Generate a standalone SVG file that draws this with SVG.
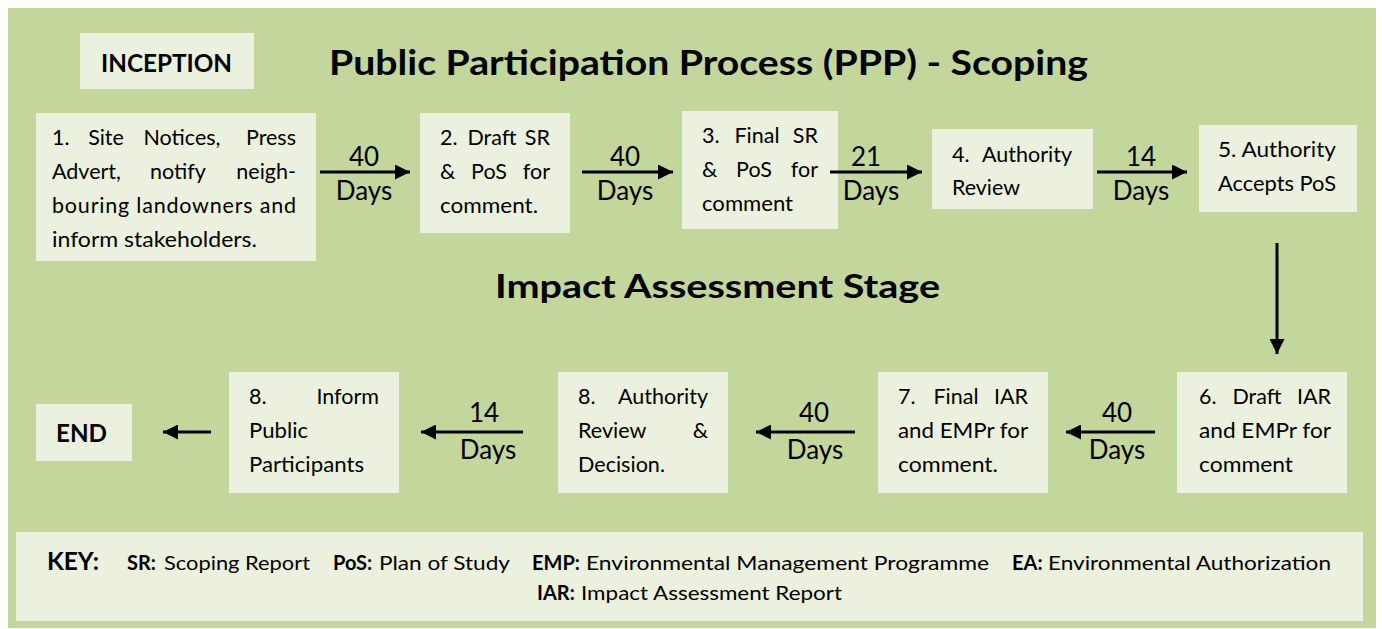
<svg xmlns="http://www.w3.org/2000/svg" width="1382" height="629" viewBox="0 0 1382 629">
<style>
.bg{fill:#C3D69B}
.box{fill:#EBF1DE}
text{font-family:Lato,"Open Sans","Liberation Sans",sans-serif;fill:#000}
.t{font-size:21.5px}
.h{font-size:35px;font-weight:bold}
.b{font-size:25px;font-weight:bold}
.lbl{font-size:26px;text-anchor:middle}
.k{font-size:20px}
.kb{font-size:20px;font-weight:bold}
.m{text-anchor:middle}
.e{text-anchor:end}
.arr{stroke:#000;stroke-width:3;fill:none;marker-end:url(#ah)}
</style>
<defs>
<marker id="ah" viewBox="0 0 10 10" refX="10" refY="5" markerUnits="userSpaceOnUse" markerWidth="15" markerHeight="15" orient="auto">
<path d="M0,0 L10,5 L0,10 z" fill="#000"/>
</marker>
</defs>
<rect class="bg" x="8" y="8" width="1368" height="620"/>

<text class="h" x="329" y="75" textLength="759" lengthAdjust="spacingAndGlyphs">Public Participation Process (PPP) - Scoping</text>
<text class="h" x="495" y="298" textLength="445" lengthAdjust="spacingAndGlyphs" style="font-size:33px">Impact Assessment Stage</text>

<g id="inception">
<rect class="box" x="80" y="33" width="174" height="56"/>
<text class="b" x="101" y="72" textLength="131" lengthAdjust="spacingAndGlyphs">INCEPTION</text>
</g>

<g id="n1">
<rect class="box" x="36" y="113" width="280" height="148"/>
<text class="t" y="145"><tspan x="106" class="m">Site</tspan><tspan x="52">1.</tspan><tspan x="182" class="m">Notices,</tspan><tspan x="296" class="e">Press</tspan></text>
<text class="t" y="179"><tspan x="52">Advert,</tspan><tspan x="178" class="m">notify</tspan><tspan x="296" class="e">neigh-</tspan></text>
<text class="t" x="52" y="213" textLength="244" lengthAdjust="spacing">bouring landowners and</text>
<text class="t" x="52" y="247" textLength="205" lengthAdjust="spacingAndGlyphs">inform stakeholders.</text>
</g>

<g id="n2">
<rect class="box" x="420" y="113" width="150" height="120"/>
<text class="t" y="145"><tspan x="440">2.</tspan><tspan x="492" class="m">Draft</tspan><tspan x="550" class="e">SR</tspan></text>
<text class="t" y="179"><tspan x="440">&amp;</tspan><tspan x="489" class="m">PoS</tspan><tspan x="550" class="e">for</tspan></text>
<text class="t" x="440" y="213" textLength="98" lengthAdjust="spacingAndGlyphs">comment.</text>
</g>

<g id="n3">
<rect class="box" x="682" y="111" width="156" height="118"/>
<text class="t" y="143"><tspan x="702">3.</tspan><tspan x="757" class="m">Final</tspan><tspan x="818" class="e">SR</tspan></text>
<text class="t" y="177"><tspan x="702">&amp;</tspan><tspan x="754" class="m">PoS</tspan><tspan x="818" class="e">for</tspan></text>
<text class="t" x="702" y="211" textLength="91" lengthAdjust="spacingAndGlyphs">comment</text>
</g>

<g id="n4">
<rect class="box" x="932" y="129" width="161" height="80"/>
<text class="t" y="162"><tspan x="952">4.</tspan><tspan x="1072" class="e">Authority</tspan></text>
<text class="t" x="952" y="195" textLength="68" lengthAdjust="spacingAndGlyphs">Review</text>
</g>

<g id="n5">
<rect class="box" x="1199" y="125" width="158" height="87"/>
<text class="t" x="1218" y="157" textLength="118" lengthAdjust="spacingAndGlyphs">5. Authority</text>
<text class="t" x="1218" y="191" textLength="118" lengthAdjust="spacingAndGlyphs">Accepts PoS</text>
</g>

<g id="n6">
<rect class="box" x="1177" y="372" width="170" height="121"/>
<text class="t" y="404"><tspan x="1199">6.</tspan><tspan x="1257" class="m">Draft</tspan><tspan x="1331" class="e">IAR</tspan></text>
<text class="t" x="1199" y="438" textLength="132" lengthAdjust="spacingAndGlyphs">and EMPr for</text>
<text class="t" x="1199" y="472" textLength="94" lengthAdjust="spacingAndGlyphs">comment</text>
</g>

<g id="n7">
<rect class="box" x="878" y="372" width="170" height="121"/>
<text class="t" y="404"><tspan x="898">7.</tspan><tspan x="956" class="m">Final</tspan><tspan x="1028" class="e">IAR</tspan></text>
<text class="t" x="898" y="438" textLength="130" lengthAdjust="spacingAndGlyphs">and EMPr for</text>
<text class="t" x="898" y="472" textLength="100" lengthAdjust="spacingAndGlyphs">comment.</text>
</g>

<g id="n8a">
<rect class="box" x="558" y="372" width="170" height="121"/>
<text class="t" y="404"><tspan x="578">8.</tspan><tspan x="708" class="e">Authority</tspan></text>
<text class="t" y="438"><tspan x="578">Review</tspan><tspan x="708" class="e">&amp;</tspan></text>
<text class="t" x="578" y="472" textLength="87" lengthAdjust="spacingAndGlyphs">Decision.</text>
</g>

<g id="n8b">
<rect class="box" x="229" y="372" width="170" height="121"/>
<text class="t" y="404"><tspan x="249">8.</tspan><tspan x="379" class="e">Inform</tspan></text>
<text class="t" x="249" y="438" textLength="59" lengthAdjust="spacingAndGlyphs">Public</text>
<text class="t" x="249" y="472" textLength="115" lengthAdjust="spacingAndGlyphs">Participants</text>
</g>

<g id="end">
<rect class="box" x="36" y="404" width="96" height="57"/>
<text class="b" x="56" y="442" textLength="51" lengthAdjust="spacingAndGlyphs">END</text>
</g>

<g id="connectors">
<line class="arr" x1="320" y1="172" x2="410" y2="172"/>
<text class="lbl" x="364" y="166">40</text><text class="lbl" x="364" y="200">Days</text>
<line class="arr" x1="582" y1="172" x2="673" y2="172"/>
<text class="lbl" x="625" y="166">40</text><text class="lbl" x="625" y="200">Days</text>
<line class="arr" x1="830" y1="172" x2="922" y2="172"/>
<text class="lbl" x="866" y="166">21</text><text class="lbl" x="871" y="200">Days</text>
<line class="arr" x1="1097" y1="172" x2="1187" y2="172"/>
<text class="lbl" x="1141" y="166">14</text><text class="lbl" x="1141" y="200">Days</text>
<line class="arr" x1="1277" y1="243" x2="1277" y2="354"/>
<line class="arr" x1="1155" y1="432" x2="1066" y2="432"/>
<text class="lbl" x="1117" y="422">40</text><text class="lbl" x="1117" y="459">Days</text>
<line class="arr" x1="855" y1="432" x2="756" y2="432"/>
<text class="lbl" x="814" y="422">40</text><text class="lbl" x="815" y="459">Days</text>
<line class="arr" x1="523" y1="432" x2="421" y2="432"/>
<text class="lbl" x="484" y="422">14</text><text class="lbl" x="488" y="459">Days</text>
<line class="arr" x1="211" y1="432" x2="163" y2="432"/>
</g>

<g id="key">
<rect class="box" x="16" y="532" width="1347" height="89"/>
<text x="47" y="570" style="font-size:24px;font-weight:bold" textLength="52" lengthAdjust="spacingAndGlyphs">KEY:</text>
<text class="kb" x="127" y="570">SR:</text>
<text class="k" x="164" y="570" textLength="146" lengthAdjust="spacingAndGlyphs">Scoping Report</text>
<text class="kb" x="333" y="570">PoS:</text>
<text class="k" x="379" y="570" textLength="131" lengthAdjust="spacingAndGlyphs">Plan of Study</text>
<text class="kb" x="532" y="570">EMP:</text>
<text class="k" x="586" y="570" textLength="403" lengthAdjust="spacingAndGlyphs">Environmental Management Programme</text>
<text class="kb" x="1012" y="570">EA:</text>
<text class="k" x="1048" y="570" textLength="283" lengthAdjust="spacingAndGlyphs">Environmental Authorization</text>
<text class="kb" x="537" y="600">IAR:</text>
<text class="k" x="581" y="600" textLength="261" lengthAdjust="spacingAndGlyphs">Impact Assessment Report</text>
</g>
</svg>
